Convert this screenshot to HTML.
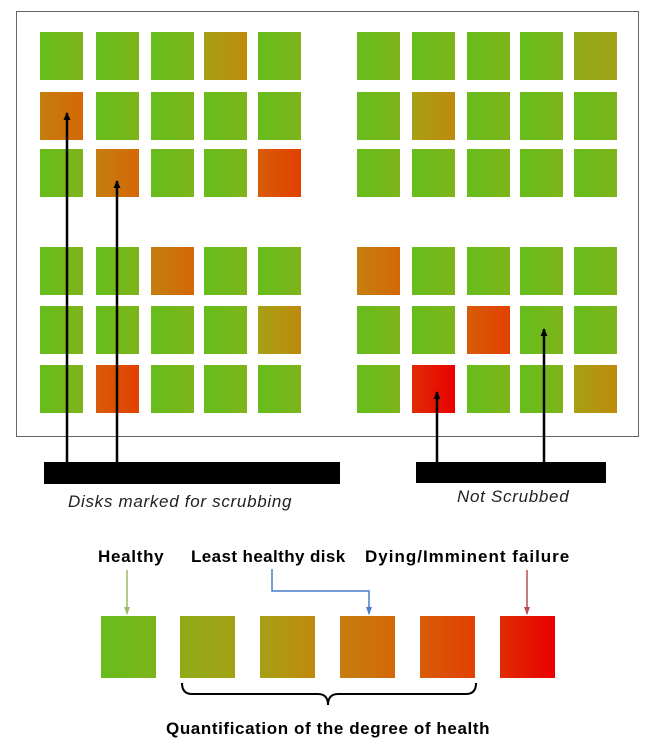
<!DOCTYPE html>
<html><head><style>
body{margin:0;width:654px;height:752px;background:#fff;position:relative;overflow:hidden;font-family:"Liberation Sans",sans-serif}
.s{position:absolute;width:43px;height:48px}
.G{background:linear-gradient(90deg,#66bd1c,#7db41a)}
.Y1{background:linear-gradient(90deg,#90ab18,#a2a214)}
.Y2{background:linear-gradient(90deg,#a6a014,#bf8a0c)}
.O{background:linear-gradient(90deg,#c57e10,#d46806)}
.R1{background:linear-gradient(90deg,#d85c08,#e24000)}
.R{background:linear-gradient(90deg,#e02c04,#ea0000)}
.t{position:absolute;white-space:nowrap;font-size:17px;letter-spacing:0.7px}
</style></head><body>
<div style="position:absolute;left:16px;top:11px;width:621px;height:424px;border:1px solid #666"></div>
<div id="g"></div>
<svg width="654" height="752" style="position:absolute;left:0;top:0">
<defs>
<marker id="a" markerUnits="userSpaceOnUse" markerWidth="8" markerHeight="8" refX="7" refY="4" orient="auto"><path d="M0,0.5L8,4L0,7.5z" fill="#000"/></marker>
<marker id="ag" markerUnits="userSpaceOnUse" markerWidth="8" markerHeight="8" refX="7" refY="4" orient="auto"><path d="M0,1L8,4L0,7z" fill="#9cba6a"/></marker>
<marker id="ab" markerUnits="userSpaceOnUse" markerWidth="8" markerHeight="8" refX="7" refY="4" orient="auto"><path d="M0,1L8,4L0,7z" fill="#4a7fc8"/></marker>
<marker id="ar" markerUnits="userSpaceOnUse" markerWidth="8" markerHeight="8" refX="7" refY="4" orient="auto"><path d="M0,1L8,4L0,7z" fill="#b85050"/></marker>
</defs>
<g stroke="#000" stroke-width="2.5" fill="none">
<line x1="67" y1="462" x2="67" y2="113" marker-end="url(#a)"/>
<line x1="117" y1="462" x2="117" y2="181" marker-end="url(#a)"/>
<line x1="437" y1="462" x2="437" y2="392" marker-end="url(#a)"/>
<line x1="544" y1="462" x2="544" y2="329" marker-end="url(#a)"/>
</g>
<rect x="44" y="462" width="296" height="22" fill="#000"/>
<rect x="416" y="462" width="190" height="21" fill="#000"/>
<line x1="127" y1="570" x2="127" y2="614" stroke="#9cba6a" stroke-width="1.5" marker-end="url(#ag)"/>
<polyline points="272,569 272,591 369,591 369,614" fill="none" stroke="#4a7fc8" stroke-width="1.5" marker-end="url(#ab)"/>
<line x1="527" y1="570" x2="527" y2="614" stroke="#b85050" stroke-width="1.5" marker-end="url(#ar)"/>
<path d="M182,683 Q182,694 192,694 L318,694 Q328,694 328,705 Q328,694 338,694 L466,694 Q476,694 476,683" fill="none" stroke="#000" stroke-width="2"/>
</svg>
<div class="t" style="left:68px;top:492px;font-style:italic;color:#222">Disks marked for scrubbing</div>
<div class="t" style="left:457px;top:487px;font-style:italic;color:#222">Not Scrubbed</div>
<div class="t" style="left:98px;top:547px;font-weight:bold">Healthy</div>
<div class="t" style="left:191px;top:547px;font-weight:bold;letter-spacing:0.4px">Least healthy disk</div>
<div class="t" style="left:365px;top:547px;font-weight:bold;letter-spacing:1px">Dying/Imminent failure</div>
<div class="t" style="left:166px;top:719px;font-weight:bold;letter-spacing:0.6px">Quantification of the degree of health</div>
<script>
var L=[["G","G","G","Y2","G"],["O","G","G","G","G"],["G","O","G","G","R1"],["G","G","O","G","G"],["G","G","G","G","Y2"],["G","R1","G","G","G"]];
var R=[["G","G","G","G","Y1"],["G","Y2","G","G","G"],["G","G","G","G","G"],["O","G","G","G","G"],["G","G","R1","G","G"],["G","R","G","G","Y2"]];
var lx=[40,96,151,204,258],rx=[357,412,467,520,574],ry=[32,92,149,247,306,365];
var h="";
for(var r=0;r<6;r++)for(var c=0;c<5;c++){
h+='<div class="s '+L[r][c]+'" style="left:'+lx[c]+'px;top:'+ry[r]+'px"></div>';
h+='<div class="s '+R[r][c]+'" style="left:'+rx[c]+'px;top:'+ry[r]+'px"></div>';}
var cl=["G","Y1","Y2","O","R1","R"],bx=[101,180,260,340,420,500];
for(var i=0;i<6;i++)h+='<div class="s '+cl[i]+'" style="left:'+bx[i]+'px;top:616px;width:55px;height:62px"></div>';
document.getElementById("g").innerHTML=h;
</script>
</body></html>
